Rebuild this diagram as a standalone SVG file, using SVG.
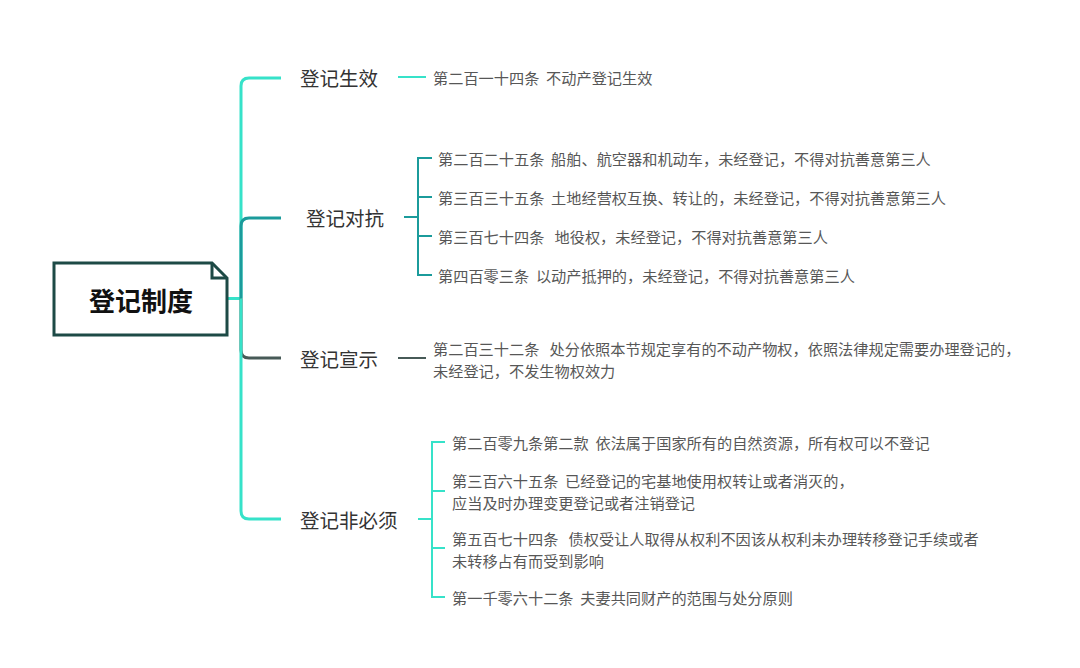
<svg xmlns="http://www.w3.org/2000/svg" width="1080" height="668" viewBox="0 0 1080 668">
<style>
text{font-family:"Noto Sans CJK SC","Microsoft YaHei",sans-serif;dominant-baseline:central}
.root{font-size:26px;font-weight:bold;fill:#111;text-anchor:middle}
.br{font-size:19.5px;fill:#333}
.lf{font-size:15.2px;fill:#575757}
.c{fill:none;stroke-width:3;stroke-linecap:butt}
.l{fill:none;stroke-width:2}
.bright{stroke:#36e2c9}
.dteal{stroke:#1b9b9b}
.gray{stroke:#475a57}
</style>
<rect width="1080" height="668" fill="#fff"/>
<g id="connectors">
<path class="c bright" d="M227,298.5 H241"/>
<path class="c bright" d="M241,298.5 V86 Q241,78 249,78 H281"/>
<path class="c dteal" d="M241,298.5 V226 Q241,218 249,218 H281"/>
<path class="c gray" d="M241,298.5 V350 Q241,358 249,358 H281"/>
<path class="c bright" d="M241,298.5 V511 Q241,519 249,519 H281"/>
<path class="l bright" d="M398,77 H426"/>
<path class="l dteal" d="M404,217 H418 M432,158 H418 V275 H432 M418,197 H432 M418,236 H432"/>
<path class="l gray" d="M398,358 H426"/>
<path class="l bright" d="M418,519 H432 M445,442 H432 V597 H445 M432,491 H445 M432,548 H445"/>
</g>
<g id="root">
<path d="M54,263 H212 L227,278 V335 H54 Z" fill="#fff" stroke="#1d4a46" stroke-width="3" stroke-linejoin="miter"/>
<path d="M212,263 V278 H227" fill="none" stroke="#1d4a46" stroke-width="3"/>
<text class="root" x="141" y="299">登记制度</text>
</g>
<g id="b1"><text class="br" x="300" y="77">登记生效</text></g>
<g id="b2"><text class="br" x="306" y="217">登记对抗</text></g>
<g id="b3"><text class="br" x="300" y="358">登记宣示</text></g>
<g id="b4"><text class="br" x="300" y="519">登记非必须</text></g>
<g id="l1"><text class="lf" x="433" y="77" xml:space="preserve">第二百一十四条  不动产登记生效</text></g>
<g id="l2"><text class="lf" x="438" y="158" xml:space="preserve">第二百二十五条  船舶、航空器和机动车，未经登记，不得对抗善意第三人</text></g>
<g id="l3"><text class="lf" x="438" y="197" xml:space="preserve">第三百三十五条  土地经营权互换、转让的，未经登记，不得对抗善意第三人</text></g>
<g id="l4"><text class="lf" x="438" y="236" xml:space="preserve">第三百七十四条   地役权，未经登记，不得对抗善意第三人</text></g>
<g id="l5"><text class="lf" x="438" y="275" xml:space="preserve">第四百零三条  以动产抵押的，未经登记，不得对抗善意第三人</text></g>
<g id="l6"><text class="lf" xml:space="preserve"><tspan x="433" y="347.5">第二百三十二条   处分依照本节规定享有的不动产物权，依照法律规定需要办理登记的，</tspan><tspan x="433" y="369.5">未经登记，不发生物权效力</tspan></text></g>
<g id="l7"><text class="lf" x="452" y="442" xml:space="preserve">第二百零九条第二款  依法属于国家所有的自然资源，所有权可以不登记</text></g>
<g id="l8"><text class="lf" xml:space="preserve"><tspan x="452" y="480">第三百六十五条  已经登记的宅基地使用权转让或者消灭的，</tspan><tspan x="452" y="502">应当及时办理变更登记或者注销登记</tspan></text></g>
<g id="l9"><text class="lf" xml:space="preserve"><tspan x="452" y="538">第五百七十四条   债权受让人取得从权利不因该从权利未办理转移登记手续或者</tspan><tspan x="452" y="560">未转移占有而受到影响</tspan></text></g>
<g id="l10"><text class="lf" x="452" y="597" xml:space="preserve">第一千零六十二条  夫妻共同财产的范围与处分原则</text></g>
</svg>
